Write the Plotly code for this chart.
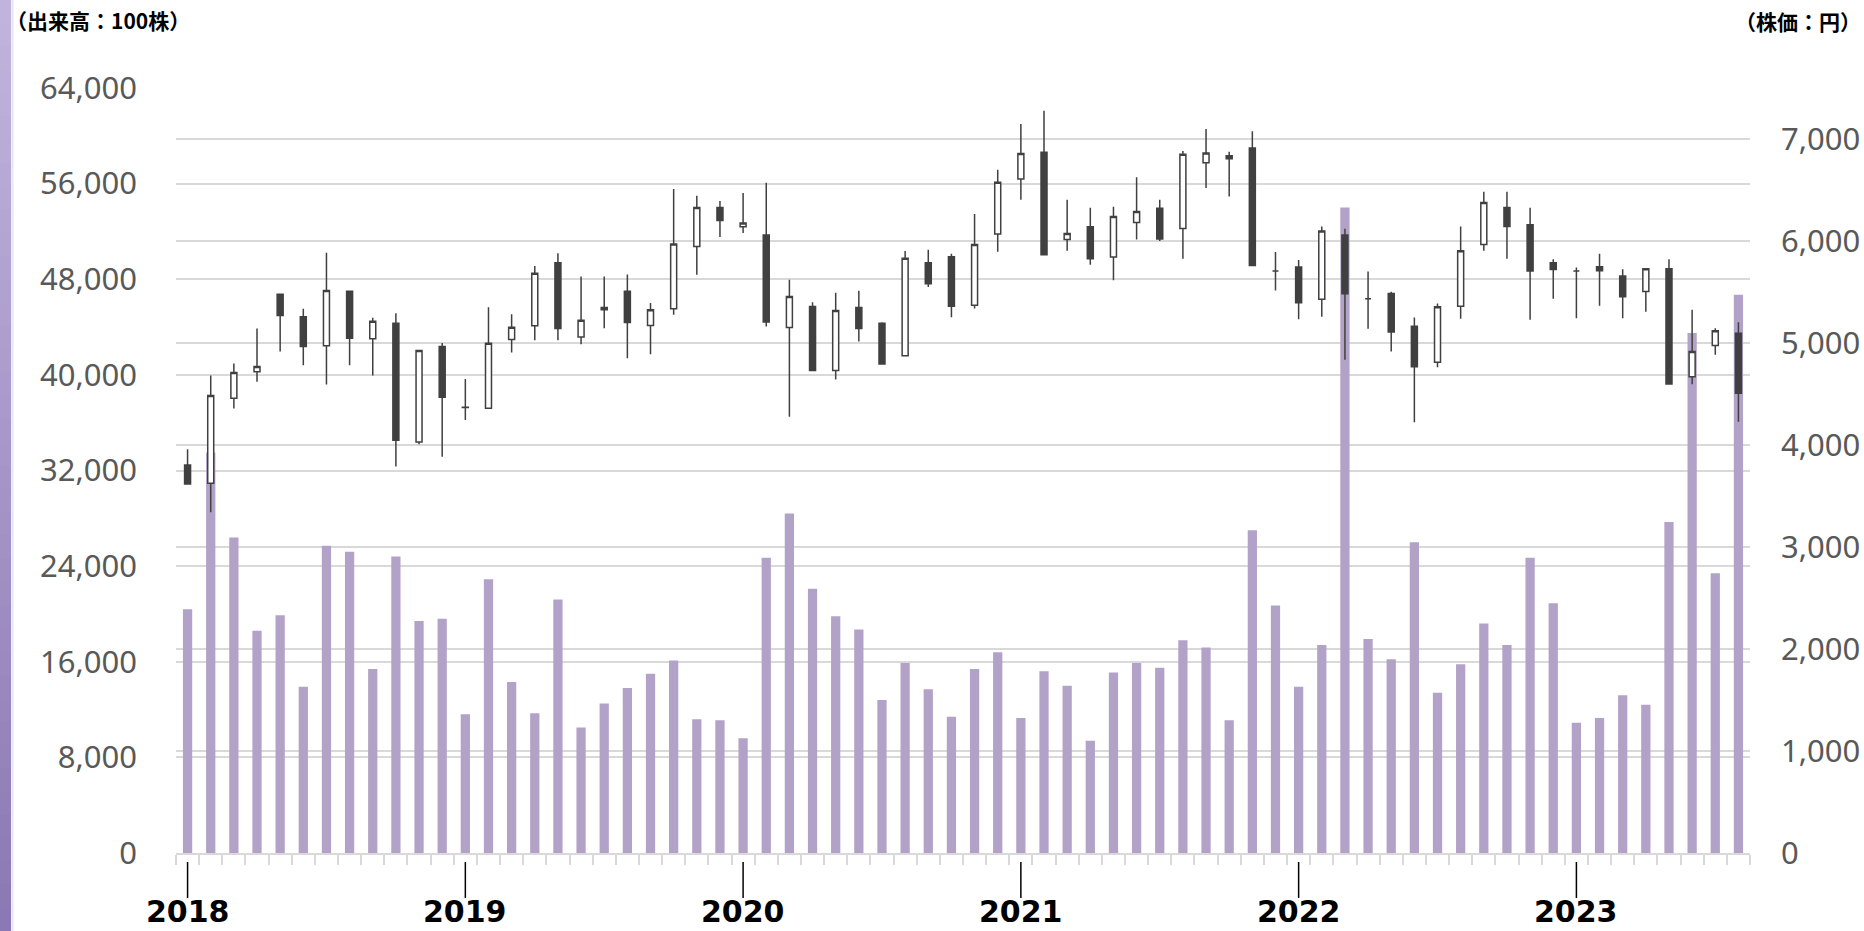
import plotly.graph_objects as go

# ---------------- data ----------------
years = ["2018", "2019", "2020", "2021", "2022", "2023"]
months = [f"{y}-{m:02d}" for y in years for m in range(1, 13)][:68]

volume = [20400, 33500, 26400, 18600, 19900, 13900, 25700, 25200, 15400, 24800,
          19400, 19600, 11600, 22900, 14300, 11700, 21200, 10500, 12500, 13800,
          15000, 16100, 11200, 11100, 9600, 24700, 28400, 22100, 19800, 18700,
          12800, 15900, 13700, 11400, 15400, 16800, 11300, 15200, 14000, 9400,
          15100, 15900, 15500, 17800, 17200, 11100, 27000, 20700, 13900, 17400,
          54000, 17900, 16200, 26000, 13400, 15800, 19200, 17400, 24700, 20900,
          10900, 11300, 13200, 12400, 27700, 43500, 23400, 46700]

open_ = [3804, 3624, 4458, 4717, 5479, 5257, 4972, 5508, 5041, 5194,
         4030, 4965, 4367, 4360, 5034, 5168, 5786, 5060, 5325, 5508,
         5171, 5335, 5947, 6329, 6140, 6058, 5152, 5358, 4730, 5348,
         5194, 4874, 5786, 5845, 5371, 6068, 6607, 6869, 6015, 6140,
         5842, 6182, 6320, 6123, 6768, 6836, 6911, 5705, 5744, 5430,
         6058, 5433, 5485, 5165, 4812, 5361, 5966, 6329, 6159, 5786,
         5705, 5747, 5656, 5505, 5728, 4668, 4975, 5096]
high = [3958, 4681, 4799, 5142, 5485, 5335, 5885, 5515, 5247, 5292,
        4926, 5001, 4648, 5351, 5283, 5754, 5881, 5652, 5652, 5672,
        5391, 6509, 6444, 6392, 6470, 6571, 5620, 5400, 5492, 5512,
        5204, 5901, 5914, 5875, 6264, 6699, 7147, 7278, 6405, 6326,
        6336, 6624, 6405, 6882, 7098, 6876, 7075, 5891, 5813, 6143,
        6120, 5701, 5502, 5250, 5387, 6143, 6483, 6483, 6326, 5822,
        5741, 5875, 5724, 5730, 5822, 5325, 5145, 5204]
low = [3610, 3340, 4357, 4619, 4916, 4782, 4593, 4782, 4681, 3788,
       4007, 3886, 4246, 4355, 4907, 5028, 5028, 4988, 5145, 4851,
       4890, 5276, 5669, 6038, 6078, 5162, 4278, 4725, 4642, 5014,
       4790, 4870, 5548, 5253, 5338, 5894, 6405, 5860, 5904, 5767,
       5616, 6015, 5999, 5826, 6519, 6437, 5755, 5515, 5234, 5257,
       4835, 5139, 4916, 4223, 4763, 5237, 5904, 5826, 5227, 5433,
       5243, 5364, 5243, 5306, 4595, 4596, 4884, 4229]
close = [3618, 4485, 4710, 4769, 5270, 4965, 5515, 5047, 5214, 4046,
         4926, 4468, 4370, 4998, 5155, 5685, 5142, 5224, 5348, 5201,
         5325, 5970, 6329, 6202, 6176, 5207, 5456, 4730, 5319, 5142,
         4795, 5832, 5580, 5361, 5966, 6575, 6859, 5865, 6074, 5826,
         6241, 6290, 6019, 6850, 6863, 6807, 5760, 5705, 5394, 6097,
         5482, 5433, 5109, 4766, 5355, 5904, 6378, 6143, 5705, 5721,
         5705, 5708, 5453, 5728, 4599, 4916, 5119, 4507]

left_title = "（出来高：100株）"
right_title = "（株価：円）"

# ---------------- layout constants ----------------
W, H = 1864, 931
ML, MR, MT, MB = 176, 114, 88, 78
PW, PH = W - ML - MR, H - MT - MB
GRID = "#d9d9d9"
LABEL = "#595959"
DARK = "#404040"
BARC = "#b3a2c7"


def px_x(px):
    return (px - ML) / PW


def px_y(py):
    return (H - MB - py) / PH


fig = go.Figure()
fig.add_trace(go.Bar(x=months, y=volume, marker=dict(color=BARC, line=dict(width=0)),
                     yaxis="y", showlegend=False, hoverinfo="skip"))
fig.add_trace(go.Candlestick(
    x=months, open=open_, high=high, low=low, close=close, yaxis="y2",
    increasing=dict(fillcolor="white", line=dict(color=DARK, width=1.5)),
    decreasing=dict(fillcolor=DARK, line=dict(color=DARK, width=1.5)),
    whiskerwidth=0, showlegend=False))

shapes = []
# left purple gradient stripe
N = 40
c_top = (192, 180, 220)
c_bot = (140, 120, 180)
for k in range(N):
    t = k / (N - 1)
    col = tuple(int(round(c_top[j] + (c_bot[j] - c_top[j]) * t)) for j in range(3))
    shapes.append(dict(type="rect", xref="paper", yref="paper",
                       x0=px_x(0), x1=px_x(11),
                       y0=px_y(H * (k + 1) / N + 1), y1=px_y(H * k / N),
                       fillcolor=f"rgb{col}", line=dict(width=0), layer="above"))
shapes.append(dict(type="line", xref="paper", yref="paper", x0=px_x(12.5), x1=px_x(12.5),
                   y0=px_y(H), y1=px_y(0), line=dict(color="#e8e2f1", width=2)))

annotations = []
jan_idx = [i for i, m in enumerate(months) if m.endswith("-01")]
for i in jan_idx:
    shapes.append(dict(type="line", xref="x", yref="paper", x0=i, x1=i,
                       y0=px_y(862), y1=px_y(898), line=dict(color="black", width=1.5)))
    annotations.append(dict(xref="x", yref="paper", x=i, y=px_y(930.5), text=months[i][:4],
                            showarrow=False, xanchor="center", yanchor="bottom",
                            font=dict(family="DejaVu Sans", size=30, color="black", weight="bold")))

annotations.append(dict(xref="paper", yref="paper", x=px_x(4), y=px_y(20), text=left_title,
                        showarrow=False, xanchor="left", yanchor="middle",
                        font=dict(family="Noto Sans CJK JP", size=21, color="black", weight="bold")))
annotations.append(dict(xref="paper", yref="paper", x=px_x(1863.5), y=px_y(21), text=right_title,
                        showarrow=False, xanchor="right", yanchor="middle",
                        font=dict(family="Noto Sans CJK JP", size=21, color="black", weight="bold")))

tickfont = dict(family="Noto Sans", size=31, color=LABEL)

fig.update_layout(
    width=W, height=H,
    margin=dict(l=ML, r=MR, t=MT, b=MB, autoexpand=False),
    paper_bgcolor="white", plot_bgcolor="white",
    bargap=0.6, boxgap=0.63,
    shapes=shapes, annotations=annotations,
    xaxis=dict(type="category", range=[-0.5, len(months) - 0.5], showgrid=False,
               showline=True, linecolor=GRID, linewidth=1.5, automargin=False,
               ticks="outside", tickson="boundaries", ticklen=10, tickcolor=GRID, tickwidth=1.5,
               tickmode="linear", tick0=0, dtick=1, showticklabels=False,
               rangeslider=dict(visible=False), fixedrange=True),
    yaxis=dict(range=[0, 64000], tick0=0, dtick=8000, tickformat=",", showgrid=True,
               gridcolor=GRID, gridwidth=1.5, zeroline=False, showline=False, automargin=False,
               ticks="", ticklabelstandoff=38, tickfont=tickfont, fixedrange=True),
    yaxis2=dict(range=[0, 7500], tick0=0, dtick=1000, tickformat=",", overlaying="y",
                side="right", showgrid=True, gridcolor=GRID, gridwidth=1.5, zeroline=False,
                showline=False, ticks="", ticklabelstandoff=30, tickfont=tickfont,
                automargin=False, fixedrange=True),
    font=dict(family="Noto Sans"),
)

fig.write_html("out.html", config={"displayModeBar": False},
               post_script="document.body.style.margin='0';document.body.style.overflow='hidden';")
